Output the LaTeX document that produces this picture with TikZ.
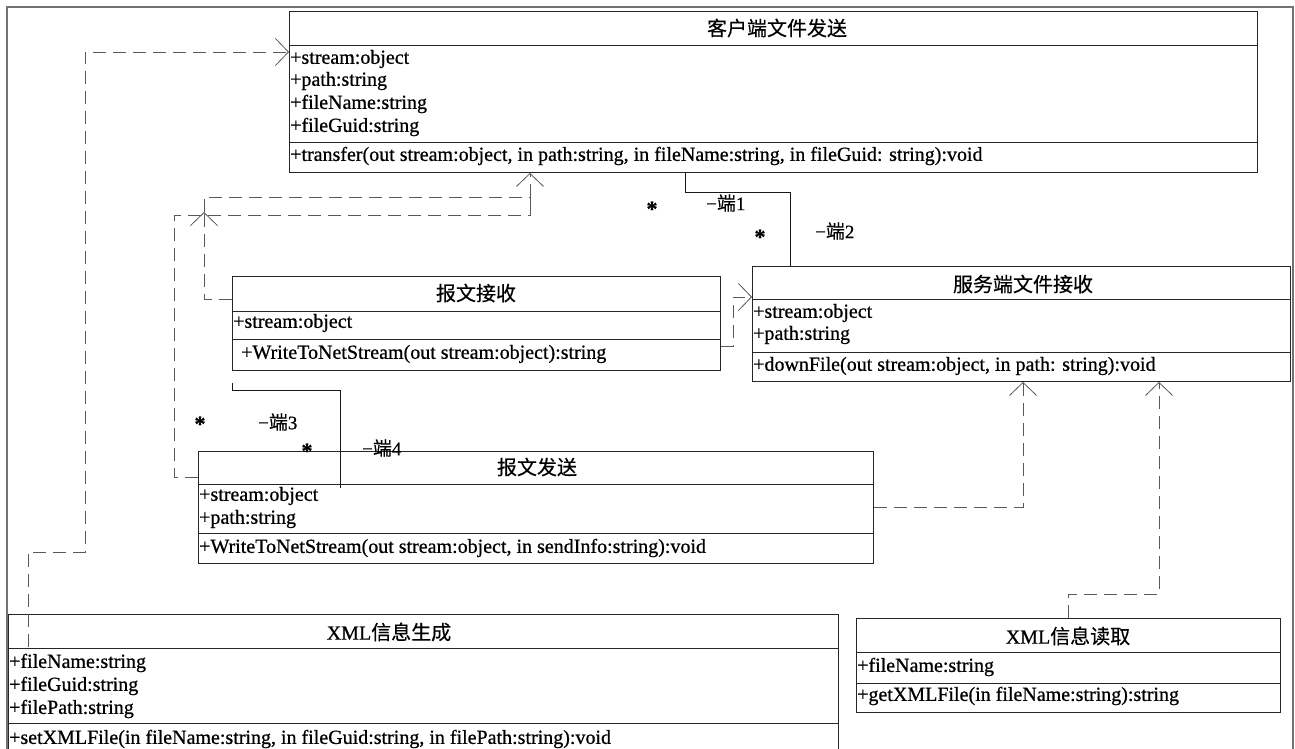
\documentclass[tikz,border=0pt]{standalone}
\usepackage{fontspec}
\setmainfont{Liberation Serif}[FakeBold=0.7]
\newfontfamily\cjk{Noto Sans CJK SC}[FakeBold=0.4]
\usetikzlibrary{arrows.meta,calc}
\begin{document}
\begin{tikzpicture}[x=1pt,y=-1pt,
  cls/.style={draw=black!85, line width=0.9pt, anchor=north west, inner sep=0pt},
  sepline/.style={draw=black!85, line width=0.9pt},
  txt/.style={anchor=west, inner sep=1pt, font=\fontsize{20}{23}\selectfont},
  ttl/.style={inner sep=0pt, font=\fontsize{20}{23}\selectfont},
  lbl/.style={inner sep=0pt, font=\fontsize{19}{21}\selectfont},
  star/.style={inner sep=0pt, font=\fontsize{22}{24}\selectfont\bfseries},
  dep/.style={draw=black!65, line width=0.9pt, dash pattern=on 13pt off 7pt},
  openarrow/.style={-{Straight Barb[length=13pt,width=27pt,line width=0.8pt]}},
  assoc/.style={draw=black!90, line width=0.9pt},
  frame/.style={draw=black!55, line width=1.6pt}]
\useasboundingbox (0,0) rectangle (1295,749);
\fill[white] (0,0) rectangle (1295,749);
\draw[frame] (7,770) -- (7,7) -- (1293,7) -- (1293,770);

% ---------- class 1: 客户端文件发送
\node[cls, minimum width=968pt, minimum height=161pt] (c1) at (289,11) {};
\draw[sepline] (c1.west |- 0,45) -- (c1.east |- 0,45);
\draw[sepline] (c1.west |- 0,142) -- (c1.east |- 0,142);
\node[ttl] (c1t) at (777,28) {\cjk 客户端文件发送};
\node[txt] (c1a) at (289,59) {+stream:object};
\node[txt] (c1b) at (289,81) {+path:string};
\node[txt] (c1c) at (289,104) {+fileName:string};
\node[txt] (c1d) at (289,127) {+fileGuid:string};
\node[txt] (c1m) at (289,156) {+transfer(out stream:object, in path:string, in fileName:string, in fileGuid: string):void};

% ---------- class 2: 报文接收
\node[cls, minimum width=488pt, minimum height=94pt] (c2) at (232,276) {};
\draw[sepline] (c2.west |- 0,311) -- (c2.east |- 0,311);
\draw[sepline] (c2.west |- 0,339) -- (c2.east |- 0,339);
\node[ttl] (c2t) at (476,293) {\cjk 报文接收};
\node[txt] (c2a) at (232,323) {+stream:object};
\node[txt] (c2m) at (240,354) {+WriteToNetStream(out stream:object):string};

% ---------- class 3: 服务端文件接收
\node[cls, minimum width=538pt, minimum height=115pt] (c3) at (752,266) {};
\draw[sepline] (c3.west |- 0,299) -- (c3.east |- 0,299);
\draw[sepline] (c3.west |- 0,352) -- (c3.east |- 0,352);
\node[ttl] (c3t) at (1023,284) {\cjk 服务端文件接收};
\node[txt] (c3a) at (752,313) {+stream:object};
\node[txt] (c3b) at (752,335) {+path:string};
\node[txt] (c3m) at (752,366) {+downFile(out stream:object, in path: string):void};

% ---------- class 4: 报文发送
\node[cls, minimum width=675pt, minimum height=112pt] (c4) at (198,451) {};
\draw[sepline] (c4.west |- 0,484) -- (c4.east |- 0,484);
\draw[sepline] (c4.west |- 0,533) -- (c4.east |- 0,533);
\node[ttl] (c4t) at (537,467) {\cjk 报文发送};
\node[txt] (c4a) at (198,496) {+stream:object};
\node[txt] (c4b) at (198,519) {+path:string};
\node[txt] (c4m) at (198,548) {+WriteToNetStream(out stream:object, in sendInfo:string):void};

% ---------- class 5: XML信息生成
\node[cls, minimum width=830pt, minimum height=160pt] (c5) at (8,614) {};
\draw[sepline] (c5.west |- 0,648) -- (c5.east |- 0,648);
\draw[sepline] (c5.west |- 0,723) -- (c5.east |- 0,723);
\node[ttl] (c5t) at (389,632) {XML{\cjk 信息生成}};
\node[txt] (c5a) at (8,663) {+fileName:string};
\node[txt] (c5b) at (8,686) {+fileGuid:string};
\node[txt] (c5c) at (8,709) {+filePath:string};
\node[txt] (c5m) at (8,739) {+setXMLFile(in fileName:string, in fileGuid:string, in filePath:string):void};

% ---------- class 6: XML信息读取
\node[cls, minimum width=424pt, minimum height=94pt] (c6) at (856,618) {};
\draw[sepline] (c6.west |- 0,652) -- (c6.east |- 0,652);
\draw[sepline] (c6.west |- 0,683) -- (c6.east |- 0,683);
\node[ttl] (c6t) at (1068,636) {XML{\cjk 信息读取}};
\node[txt] (c6a) at (856,667) {+fileName:string};
\node[txt] (c6m) at (856,696) {+getXMLFile(in fileName:string):string};

% ---------- dependencies (dashed)
\draw[dep, openarrow] ($(c5.north west)+(20,33)$) -- (28,552) -- (85,552) -- (85,52) -- (c1.west |- 0,52);
\coordinate (k1) at (204,212);
\draw[dep, openarrow] (c2.west |- 0,299) -- (204,299) -- (k1);
\draw[dep] (k1) -- (204,197) -- (530,197) -- (530,215);
\draw[dep, openarrow] (c4.west |- 0,477) -- (174,477) -- (174,215) -- (530,215) -- (c1.south -| 530,0);
\draw[dep, openarrow] (c2.east |- 0,346) -- (733,346) -- (733,297) -- (c3.west |- 0,297);
\draw[dep, openarrow] (c4.east |- 0,507) -- (1023,507) -- (c3.south -| 1023,0);
\draw[dep, openarrow] (c6.north -| 1068,0) -- (1068,594) -- (1159,594) -- (c3.south -| 1159,0);

% ---------- associations (solid)
\draw[assoc] (c1.south -| 685,0) -- (685,192) -- (790,192) -- (c3.north -| 790,0);
\draw[assoc] ($(c2.south west)+(0,12)$) -- (232,390) -- (340,390) -- ($(c4.north west)+(142,37)$);

% ---------- association end labels
\node[star] (s1) at (652,209) {*};
\node[lbl, anchor=west] (e1) at (706,203) {−{\cjk 端}1};
\node[star] (s2) at (760,237) {*};
\node[lbl, anchor=west] (e2) at (815,231) {−{\cjk 端}2};
\node[star] (s3) at (200,424) {*};
\node[lbl, anchor=west] (e3) at (258,422) {−{\cjk 端}3};
\node[star] (s4) at (307,451) {*};
\node[lbl, anchor=west] (e4) at (362,448) {−{\cjk 端}4};
\end{tikzpicture}
\end{document}
